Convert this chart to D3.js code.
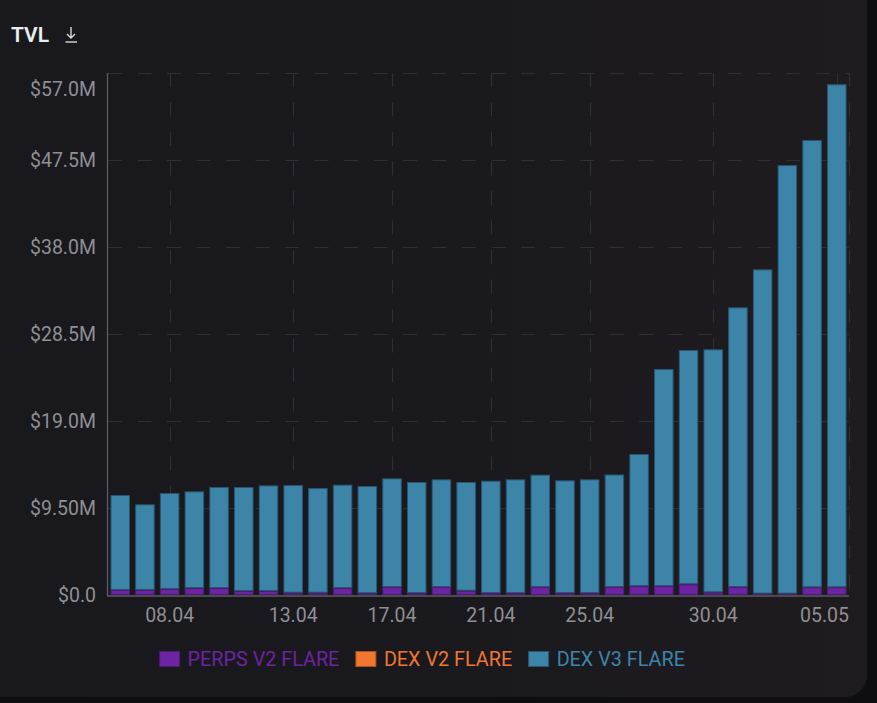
<!DOCTYPE html>
<html>
<head>
<meta charset="utf-8">
<script src="https://cdn.jsdelivr.net/npm/d3@7/dist/d3.min.js"></script>
<style>
  html, body { margin: 0; padding: 0; background: #0e0e11; }
  svg { display: block; font-family: Roboto, "Noto Sans", sans-serif; }
</style>
</head>
<body>
<svg id="chart" width="877" height="703"></svg>
<script>
// ---- data ----
const dates = ["06.04","07.04","08.04","09.04","10.04","11.04","12.04","13.04","14.04","15.04",
  "16.04","17.04","18.04","19.04","20.04","21.04","22.04","23.04","24.04","25.04",
  "26.04","27.04","28.04","29.04","30.04","01.05","02.05","03.05","04.05","05.05"];
const perpsV2Flare = [0.55,0.55,0.66,0.76,0.76,0.44,0.44,0.25,0.25,0.76,
  0.19,0.87,0.22,0.87,0.47,0.22,0.22,0.87,0.22,0.22,
  0.87,0.98,0.98,1.17,0.29,0.87,0.15,0.15,0.84,0.84];
const dexV2Flare = [0,0,0,0,0,0,0,0,0,0, 0,0,0,0,0,0,0,0,0,0, 0,0,0,0,0,0,0,0,0,0];
const dexV3Flare = [10.37,9.35,10.48,10.56,11.03,11.35,11.53,11.76,11.43,11.29,
  11.71,11.87,12.12,11.76,11.87,12.26,12.41,12.27,12.30,12.41,
  12.29,14.42,23.70,25.58,26.54,30.54,35.41,46.80,48.84,54.93];
const seriesNames = ["PERPS V2 FLARE","DEX V2 FLARE","DEX V3 FLARE"];
const yTickValues = [0, 9.5, 19, 28.5, 38, 47.5, 57];
const yTickLabels = ["$0.0","$9.50M","$19.0M","$28.5M","$38.0M","$47.5M","$57.0M"];
const xTickLabels = ["08.04","13.04","17.04","21.04","25.04","30.04","05.05"];

// ---- styles ----
const colors = ["#6c24a3", "#f07631", "#3c85a9"];
const strokes = ["#4e1a78", "#a8521f", "#2a5670"];

const svg = d3.select("#chart");
const W = 877, H = 703;
const m = { left: 108, right: 849, top: 73, bottom: 595 };

// card background
const defs = svg.append("defs");
const grad = defs.append("linearGradient").attr("id", "bg").attr("x1", 0).attr("x2", 1).attr("y1", 0).attr("y2", 0);
grad.append("stop").attr("offset", "0%").attr("stop-color", "#18181d");
grad.append("stop").attr("offset", "60%").attr("stop-color", "#1a191e");
grad.append("stop").attr("offset", "100%").attr("stop-color", "#1f1c1f");
svg.append("rect").attr("x", 0).attr("y", 0).attr("width", W).attr("height", H).attr("fill", "#0e0e11");
svg.append("rect").attr("x", -30).attr("y", -30).attr("width", 867 + 30).attr("height", 697 + 30)
  .attr("rx", 22).attr("fill", "url(#bg)");

// title
svg.append("text").attr("x", 11).attr("y", 41.5).text("TVL")
  .attr("fill", "#ececec").attr("font-size", 21).attr("font-weight", 600);
const icon = svg.append("g").attr("stroke", "#d8d8d8").attr("stroke-width", 1.4).attr("fill", "none");
icon.append("path").attr("d", "M71,27 V38 M67,34 L71,38 L75,34");
icon.append("path").attr("d", "M65.5,42 H77");

// scales
const x = d3.scaleBand().domain(dates).range([m.left, m.right]).paddingInner(0.21).paddingOuter(0.1);
const y = d3.scaleLinear().domain([0, 57]).range([m.bottom, m.top]);

// gridlines
const grid = svg.append("g").attr("stroke", "#2f2f35").attr("stroke-width", 1.2).attr("stroke-dasharray", "14,15.5");
grid.selectAll("line.h").data(yTickValues.slice(1)).join("line")
  .attr("x1", m.left).attr("x2", m.right)
  .attr("y1", d => Math.round(y(d)) + 0.5).attr("y2", d => Math.round(y(d)) + 0.5);
const xTickDates = dates.filter(d => xTickLabels.includes(d));
grid.selectAll("line.v").data(xTickDates).join("line")
  .attr("x1", d => Math.round(x(d) + x.bandwidth() / 2) + 0.5)
  .attr("x2", d => Math.round(x(d) + x.bandwidth() / 2) + 0.5)
  .attr("y1", m.top).attr("y2", m.bottom);
grid.append("line").attr("x1", m.right + 0.5).attr("x2", m.right + 0.5).attr("y1", m.top).attr("y2", m.bottom);

// stacked bars
const rows = dates.map((d, i) => ({ date: d, p: perpsV2Flare[i], d2: dexV2Flare[i], d3: dexV3Flare[i] }));
const stack = d3.stack().keys(["p", "d2", "d3"]);
const layers = stack(rows);
svg.append("g").selectAll("g").data(layers).join("g")
  .attr("fill", (d, i) => colors[i]).attr("stroke", (d, i) => strokes[i]).attr("stroke-width", 1)
  .selectAll("rect").data(d => d.filter(s => s[1] - s[0] > 0)).join("rect")
  .attr("x", d => x(d.data.date) + 0.5)
  .attr("width", x.bandwidth() - 1)
  .attr("y", d => y(d[1]) + 0.5)
  .attr("height", d => Math.max(0, y(d[0]) - y(d[1]) - 1));

// axes lines
svg.append("line").attr("x1", m.left - 0.5).attr("x2", m.left - 0.5).attr("y1", m.top).attr("y2", m.bottom + 1)
  .attr("stroke", "#5c5c62").attr("stroke-width", 1.3);
svg.append("line").attr("x1", m.left - 1).attr("x2", m.right).attr("y1", m.bottom + 1).attr("y2", m.bottom + 1)
  .attr("stroke", "#5c5c62").attr("stroke-width", 1.3);

// y labels
svg.append("g").selectAll("text").data(yTickValues).join("text")
  .attr("x", 96)
  .attr("y", (d, i) => Math.max(y(d), 89.5))
  .attr("dy", "0.35em")
  .attr("text-anchor", "end")
  .attr("fill", "#8f8f94").attr("font-size", 19.5)
  .text((d, i) => yTickLabels[i]);

// x labels
svg.append("g").selectAll("text").data(xTickDates).join("text")
  .attr("y", 622)
  .attr("text-anchor", "middle")
  .attr("fill", "#8f8f94").attr("font-size", 19.5)
  .text((d, i) => xTickLabels[i])
  .attr("x", function(d) {
    const c = x(d) + x.bandwidth() / 2;
    const w = this.getComputedTextLength();
    return Math.min(c, m.right - w / 2);
  });

// legend
const legend = svg.append("g");
let lx = 0;
seriesNames.forEach((name, i) => {
  const g = legend.append("g").attr("transform", `translate(${lx},0)`);
  g.append("rect").attr("x", 0.5).attr("y", 651.5).attr("width", 20).attr("height", 15)
    .attr("fill", colors[i]).attr("stroke", strokes[i]).attr("stroke-width", 1);
  const t = g.append("text").attr("x", 28.5).attr("y", 665.5).attr("fill", colors[i])
    .attr("font-size", 19.8).text(name);
  lx += 28.5 + t.node().getComputedTextLength() + 16;
});
const totalW = lx - 16;
legend.attr("transform", `translate(${422 - totalW / 2},0)`);
</script>
</body>
</html>
